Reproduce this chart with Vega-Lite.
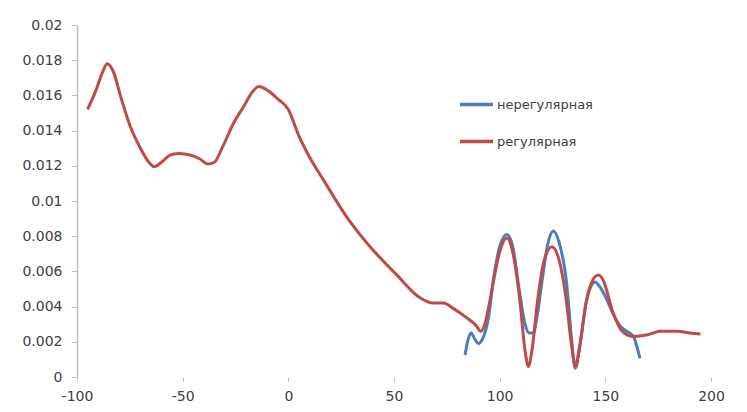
{
  "$schema": "https://vega.github.io/schema/vega-lite/v6.json",
  "width": 634,
  "height": 352,
  "autosize": {"type": "none"},
  "padding": {"left": 77, "top": 25, "right": 36, "bottom": 35},
  "background": "white",
  "config": {
    "view": {"stroke": null},
    "font": "DejaVu Sans"
  },
  "data": {
    "values": [
      {"x": 83.6, "y": 0.00125, "s": "нерегулярная"},
      {"x": 85, "y": 0.0021, "s": "нерегулярная"},
      {"x": 86.5, "y": 0.0025, "s": "нерегулярная"},
      {"x": 88, "y": 0.0022, "s": "нерегулярная"},
      {"x": 90, "y": 0.0019, "s": "нерегулярная"},
      {"x": 92, "y": 0.0022, "s": "нерегулярная"},
      {"x": 93.5, "y": 0.0027, "s": "нерегулярная"},
      {"x": 95, "y": 0.0036, "s": "нерегулярная"},
      {"x": 97, "y": 0.0055, "s": "нерегулярная"},
      {"x": 100, "y": 0.0074, "s": "нерегулярная"},
      {"x": 103.4, "y": 0.0081, "s": "нерегулярная"},
      {"x": 106, "y": 0.0075, "s": "нерегулярная"},
      {"x": 109.7, "y": 0.0046, "s": "нерегулярная"},
      {"x": 112, "y": 0.003, "s": "нерегулярная"},
      {"x": 114, "y": 0.0025, "s": "нерегулярная"},
      {"x": 116, "y": 0.0025, "s": "нерегулярная"},
      {"x": 117.5, "y": 0.0033, "s": "нерегулярная"},
      {"x": 120, "y": 0.0054, "s": "нерегулярная"},
      {"x": 122.5, "y": 0.0074, "s": "нерегулярная"},
      {"x": 125.4, "y": 0.0083, "s": "нерегулярная"},
      {"x": 128, "y": 0.0077, "s": "нерегулярная"},
      {"x": 131.7, "y": 0.0053, "s": "нерегулярная"},
      {"x": 134, "y": 0.0022, "s": "нерегулярная"},
      {"x": 135.7, "y": 0.0005, "s": "нерегулярная"},
      {"x": 137.5, "y": 0.0015, "s": "нерегулярная"},
      {"x": 141.2, "y": 0.0044, "s": "нерегулярная"},
      {"x": 143, "y": 0.0051, "s": "нерегулярная"},
      {"x": 145.1, "y": 0.0054, "s": "нерегулярная"},
      {"x": 147.5, "y": 0.0051, "s": "нерегулярная"},
      {"x": 150.7, "y": 0.0044, "s": "нерегулярная"},
      {"x": 154, "y": 0.0035, "s": "нерегулярная"},
      {"x": 157, "y": 0.0029, "s": "нерегулярная"},
      {"x": 160, "y": 0.0026, "s": "нерегулярная"},
      {"x": 163.3, "y": 0.0023, "s": "нерегулярная"},
      {"x": 165, "y": 0.0017, "s": "нерегулярная"},
      {"x": 166.4, "y": 0.00106, "s": "нерегулярная"},
      {"x": -95, "y": 0.0152, "s": "регулярная"},
      {"x": -91, "y": 0.0163, "s": "регулярная"},
      {"x": -88, "y": 0.0173, "s": "регулярная"},
      {"x": -85.7, "y": 0.0178, "s": "регулярная"},
      {"x": -83, "y": 0.0174, "s": "регулярная"},
      {"x": -79, "y": 0.0158, "s": "регулярная"},
      {"x": -75, "y": 0.0143, "s": "регулярная"},
      {"x": -70, "y": 0.013, "s": "регулярная"},
      {"x": -66, "y": 0.0122, "s": "регулярная"},
      {"x": -63.5, "y": 0.01195, "s": "регулярная"},
      {"x": -60, "y": 0.0122, "s": "регулярная"},
      {"x": -56, "y": 0.0126, "s": "регулярная"},
      {"x": -52, "y": 0.0127, "s": "регулярная"},
      {"x": -46, "y": 0.0126, "s": "регулярная"},
      {"x": -42, "y": 0.0124, "s": "регулярная"},
      {"x": -38, "y": 0.0121, "s": "регулярная"},
      {"x": -35, "y": 0.0122, "s": "регулярная"},
      {"x": -31, "y": 0.0131, "s": "регулярная"},
      {"x": -26, "y": 0.0144, "s": "регулярная"},
      {"x": -21, "y": 0.0154, "s": "регулярная"},
      {"x": -17, "y": 0.0162, "s": "регулярная"},
      {"x": -14, "y": 0.0165, "s": "регулярная"},
      {"x": -10, "y": 0.0163, "s": "регулярная"},
      {"x": -5, "y": 0.0158, "s": "регулярная"},
      {"x": 0, "y": 0.0152, "s": "регулярная"},
      {"x": 5, "y": 0.0137, "s": "регулярная"},
      {"x": 10, "y": 0.0125, "s": "регулярная"},
      {"x": 16.6, "y": 0.0112, "s": "регулярная"},
      {"x": 27.6, "y": 0.0091, "s": "регулярная"},
      {"x": 38.7, "y": 0.0074, "s": "регулярная"},
      {"x": 51.3, "y": 0.0058, "s": "регулярная"},
      {"x": 62.3, "y": 0.0045, "s": "регулярная"},
      {"x": 68.6, "y": 0.0042, "s": "регулярная"},
      {"x": 73.4, "y": 0.0042, "s": "регулярная"},
      {"x": 78, "y": 0.0039, "s": "регулярная"},
      {"x": 84, "y": 0.0034, "s": "регулярная"},
      {"x": 89, "y": 0.0029, "s": "регулярная"},
      {"x": 91, "y": 0.0026, "s": "регулярная"},
      {"x": 93, "y": 0.003, "s": "регулярная"},
      {"x": 95, "y": 0.0041, "s": "регулярная"},
      {"x": 97, "y": 0.0054, "s": "регулярная"},
      {"x": 100, "y": 0.0071, "s": "регулярная"},
      {"x": 103.4, "y": 0.0079, "s": "регулярная"},
      {"x": 106, "y": 0.0072, "s": "регулярная"},
      {"x": 109.5, "y": 0.0044, "s": "регулярная"},
      {"x": 112, "y": 0.0015, "s": "регулярная"},
      {"x": 113.6, "y": 0.0006, "s": "регулярная"},
      {"x": 115.5, "y": 0.0017, "s": "регулярная"},
      {"x": 118, "y": 0.0044, "s": "регулярная"},
      {"x": 121, "y": 0.0066, "s": "регулярная"},
      {"x": 124.7, "y": 0.0074, "s": "регулярная"},
      {"x": 128, "y": 0.0067, "s": "регулярная"},
      {"x": 131.5, "y": 0.0044, "s": "регулярная"},
      {"x": 134, "y": 0.0018, "s": "регулярная"},
      {"x": 136, "y": 0.0006, "s": "регулярная"},
      {"x": 138, "y": 0.0018, "s": "регулярная"},
      {"x": 141, "y": 0.0043, "s": "регулярная"},
      {"x": 144, "y": 0.0055, "s": "регулярная"},
      {"x": 146.7, "y": 0.0058, "s": "регулярная"},
      {"x": 149, "y": 0.0055, "s": "регулярная"},
      {"x": 153.5, "y": 0.0037, "s": "регулярная"},
      {"x": 158, "y": 0.0026, "s": "регулярная"},
      {"x": 163, "y": 0.0023, "s": "регулярная"},
      {"x": 170, "y": 0.0024, "s": "регулярная"},
      {"x": 176, "y": 0.0026, "s": "регулярная"},
      {"x": 184, "y": 0.0026, "s": "регулярная"},
      {"x": 190, "y": 0.0025, "s": "регулярная"},
      {"x": 195, "y": 0.00244, "s": "регулярная"}
    ]
  },
  "mark": {"type": "line", "interpolate": "monotone", "strokeWidth": 3, "clip": true},
  "encoding": {
    "x": {
      "field": "x",
      "type": "quantitative",
      "scale": {"domain": [-100, 200], "nice": false, "zero": false},
      "axis": {
        "title": null,
        "values": [-100, -50, 0, 50, 100, 150, 200],
        "labelExpr": "'' + datum.value",
        "domain": false,
        "grid": false,
        "ticks": true,
        "tickSize": 4,
        "tickColor": "#bfbfbf",
        "labelFlush": false,
        "labelOverlap": false,
        "labelFont": "DejaVu Sans",
        "labelFontSize": 14,
        "labelColor": "#404040",
        "labelPadding": 8
      }
    },
    "y": {
      "field": "y",
      "type": "quantitative",
      "scale": {"domain": [0, 0.02], "nice": false},
      "axis": {
        "title": null,
        "values": [0, 0.002, 0.004, 0.006, 0.008, 0.01, 0.012, 0.014, 0.016, 0.018, 0.02],
        "format": "~g",
        "grid": false,
        "labelFlush": false,
        "labelOverlap": false,
        "domainColor": "#bfbfbf",
        "domainWidth": 1.5,
        "tickColor": "#bfbfbf",
        "tickSize": 6,
        "labelFont": "DejaVu Sans",
        "labelFontSize": 14,
        "labelColor": "#404040",
        "labelPadding": 9
      }
    },
    "color": {
      "field": "s",
      "type": "nominal",
      "sort": ["нерегулярная", "регулярная"],
      "scale": {"domain": ["нерегулярная", "регулярная"], "range": ["#4a7ebb", "#be4b48"]},
      "legend": {
        "title": null,
        "orient": "none",
        "legendX": 381,
        "legendY": 61,
        "symbolType": "stroke",
        "symbolSize": 1089,
        "symbolStrokeWidth": 3.5,
        "labelFont": "DejaVu Sans",
        "labelFontSize": 13,
        "labelColor": "#404040",
        "labelOffset": 2,
        "rowPadding": 11
      }
    }
  }
}
